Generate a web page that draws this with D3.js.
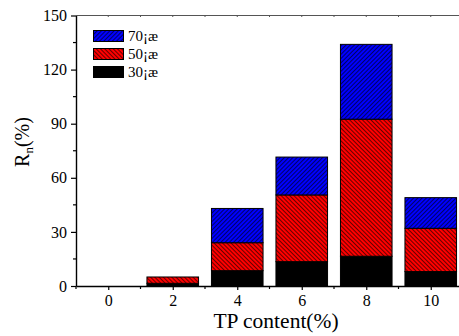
<!DOCTYPE html>
<html>
<head>
<meta charset="utf-8">
<script src="https://cdn.jsdelivr.net/npm/d3@7"></script>
<style>
  body { margin: 0; background: #fff; }
  text { font-family: "Liberation Serif", "Times New Roman", serif; }
</style>
</head>
<body>
<div id="chart"></div>
<script>
// data
const categories = [0, 2, 4, 6, 8, 10];
const t30 = [0, 1.5, 8.5, 13.5, 16.5, 8];
const t50 = [0, 3.5, 15.5, 37, 76, 24];
const t70 = [0, 0, 19, 21, 41.5, 17];
const seriesNames = ["30\u00a1\u00e6", "50\u00a1\u00e6", "70\u00a1\u00e6"];
const yTicks = [0, 30, 60, 90, 120, 150];

const W = 459, H = 336;
const mLeft = 76, mTop = 15.5, mBottom = 286;

const svg = d3.select("#chart").append("svg")
    .attr("width", W)
    .attr("height", H);

const defs = svg.append("defs");
function hatch(id, fill, dir) {
    const p = defs.append("pattern")
        .attr("id", id)
        .attr("patternUnits", "userSpaceOnUse")
        .attr("width", 3).attr("height", 3)
        .attr("patternTransform", "rotate(" + dir + ")");
    p.append("rect").attr("width", 3).attr("height", 3).attr("fill", fill);
    p.append("line").attr("x1", 0).attr("y1", 0).attr("x2", 0).attr("y2", 3)
        .attr("stroke", "#000").attr("stroke-width", 1.2);
}
hatch("hRed", "#ff0000", -45);
hatch("hBlue", "#0000ff", 45);

const x = d3.scaleLinear().domain([-1, 11]).range([mLeft, mLeft + 12 * 32.25]);
const y = d3.scaleLinear().domain([0, 150]).range([mBottom, mTop]);

const fills = ["#000", "url(#hRed)", "url(#hBlue)"];
const stackData = categories.map((c, i) => ({ c: c, s: [t30[i], t50[i], t70[i]] }));
const series = d3.stack().keys([0, 1, 2]).value((d, k) => d.s[k])(stackData);

const bw = 1.6;
svg.append("g").selectAll("g")
    .data(series)
    .join("g")
    .attr("fill", (d, i) => fills[i])
    .selectAll("rect")
    .data(d => d.filter(v => v[1] - v[0] > 0))
    .join("rect")
    .attr("x", d => x(d.data.c - bw / 2))
    .attr("width", d => x(bw) - x(0))
    .attr("y", d => y(d[1]))
    .attr("height", d => y(d[0]) - y(d[1]))
    .attr("stroke", "#000")
    .attr("stroke-width", 1);

// axes
const xAxis = svg.append("g")
    .attr("transform", "translate(0," + mBottom + ")")
    .call(d3.axisBottom(x).tickValues(categories).tickSize(4).tickSizeOuter(0).tickPadding(5));
xAxis.append("g").selectAll("line")
    .data(d3.range(-1, 12, 2))
    .join("line")
    .attr("x1", d => x(d)).attr("x2", d => x(d))
    .attr("y1", 0).attr("y2", 3)
    .attr("stroke", "#000");

const yAxis = svg.append("g")
    .attr("transform", "translate(" + mLeft + ",0)")
    .call(d3.axisLeft(y).tickValues(yTicks).tickSize(5).tickSizeOuter(0).tickPadding(4));
yAxis.append("g").selectAll("line")
    .data(d3.range(15, 150, 30))
    .join("line")
    .attr("x1", 0).attr("x2", -3)
    .attr("y1", d => y(d)).attr("y2", d => y(d))
    .attr("stroke", "#000");

[xAxis, yAxis].forEach(a => {
    a.attr("font-family", null);
    a.selectAll("text")
        .attr("font-size", 16)
        .style("font-family", "'Liberation Serif', serif")
        .attr("fill", "#000");
    a.select(".domain").attr("stroke-width", 1.4);
    a.selectAll("line").attr("stroke-width", 1.2);
});

// top frame line with small ticks
svg.append("line")
    .attr("x1", mLeft).attr("x2", W)
    .attr("y1", mTop).attr("y2", mTop)
    .attr("stroke", "#555").attr("stroke-width", 1);
svg.append("g").selectAll("line")
    .data(d3.range(0, 12, 1))
    .join("line")
    .attr("x1", d => x(d)).attr("x2", d => x(d))
    .attr("y1", mTop).attr("y2", mTop + 1.5)
    .attr("stroke", "#555");

// axis titles
svg.append("text")
    .attr("x", 276).attr("y", 328)
    .attr("text-anchor", "middle")
    .attr("font-size", 21.5)
    .text("TP content(%)");

const yl = svg.append("text")
    .attr("transform", "translate(29,142) rotate(-90)")
    .attr("text-anchor", "middle")
    .attr("font-size", 20);
yl.append("tspan").text("R");
yl.append("tspan").attr("font-size", 13).attr("dy", 4).text("n");
yl.append("tspan").attr("dy", -4).text("(%)");

// legend
const legend = svg.append("g");
const legFills = [fills[2], fills[1], fills[0]];
const legNames = [seriesNames[2], seriesNames[1], seriesNames[0]];
legend.selectAll("rect")
    .data(legFills)
    .join("rect")
    .attr("x", 93.5).attr("y", (d, i) => 30.5 + i * 18)
    .attr("width", 30).attr("height", 11)
    .attr("fill", d => d)
    .attr("stroke", "#000");
legend.selectAll("text")
    .data(legNames)
    .join("text")
    .attr("x", 128).attr("y", (d, i) => 41 + i * 18)
    .attr("font-size", 15)
    .text(d => d);
</script>
</body>
</html>
